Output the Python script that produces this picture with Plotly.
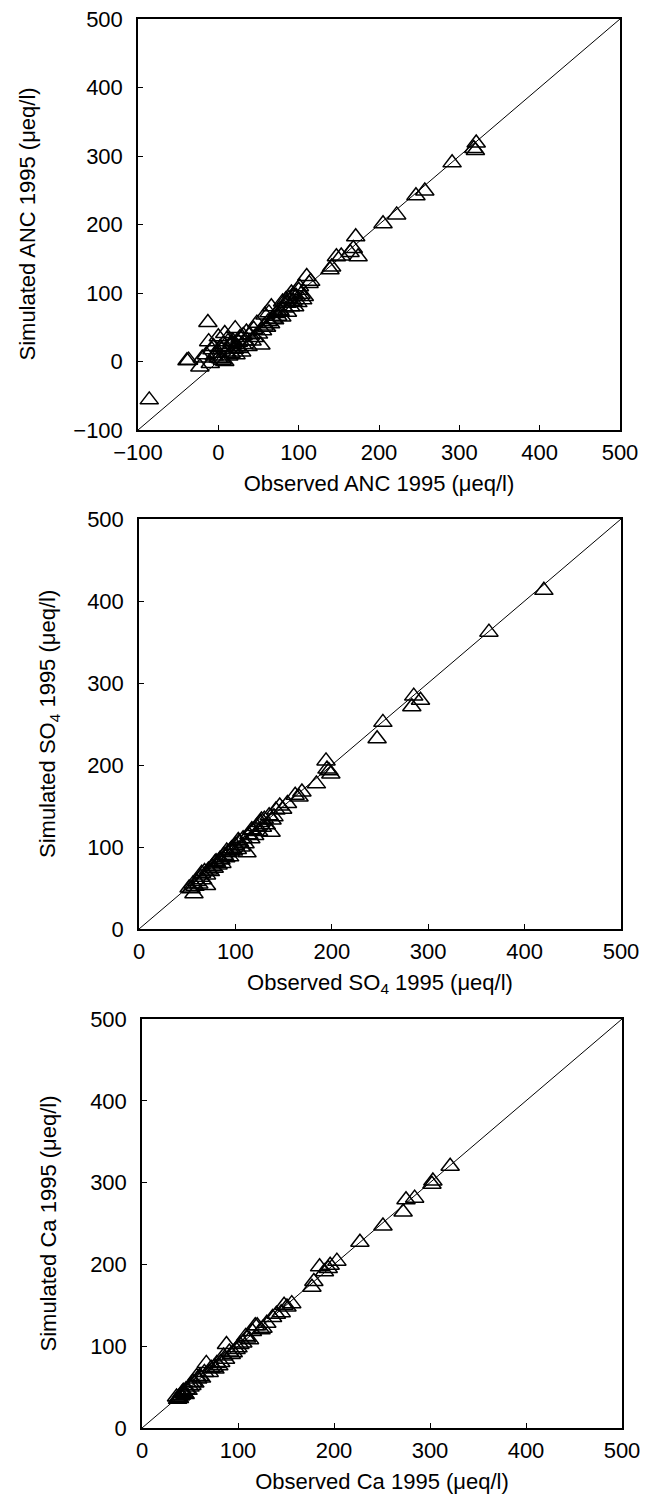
import plotly.graph_objects as go

# ANC panel (observed vs simulated, ueq/l)
anc_obs = [-86, -39, -13, -23, -37, -20, -15, -12, -10, -8, -5, -2, 0, 0, 2, 4, 5, 6, 8, 8,
           10, 12, 13, 15, 16, 18, 20, 21, 22, 23, 25, 27, 29, 30, 33, 35, 37, 39, 42, 45,
           48, 50, 53, 55, 58, 60, 62, 65, 66, 68, 70, 72, 74, 76, 79, 80, 82, 85, 86, 88,
           90, 91, 93, 95, 97, 99, 101, 103, 105, 107, 110, 113, 115, 139, 141, 147, 153, 164,
           168, 171, 174, 205, 222, 246, 257, 291, 318, 321, 320, -6, 3, 11, 17, 26, 31,
           44, 57, 63, 77, 84, 94, 100]
anc_sim = [-56, 1, 57, -8, 2, 5, 10, 29, -3, 17, 8, 12, 36, 5, 20, 17, 2, 25, 41, 0,
           14, 29, 8, 22, 12, 30, 18, 48, 10, 21, 28, 35, 14, 25, 30, 43, 22, 39, 30, 35,
           56, 40, 24, 45, 68, 50, 58, 55, 80, 62, 61, 70, 66, 75, 65, 87, 78, 85, 72, 92,
           80, 100, 88, 80, 95, 86, 109, 98, 90, 95, 124, 114, 117, 134, 138, 153, 154, 159,
           165, 182, 153, 201, 214, 242, 249, 290, 311, 319, 308, 22, 4, 33, 27, 19, 38,
           47, 52, 71, 73, 90, 97, 104]

# SO4 panel
so4_obs = [420, 363, 285, 292, 283, 253, 247, 194, 195, 199, 197, 184, 169, 166, 162, 154,
           149, 146, 140, 137, 52, 54, 56, 58, 60, 62, 64, 66, 68, 70, 72, 74, 76, 78, 80,
           82, 84, 86, 88, 90, 92, 94, 96, 98, 100, 102, 104, 106, 108, 110, 112, 114, 116,
           118, 120, 122, 124, 126, 128, 130, 132, 135, 138, 142, 57, 70, 85, 95, 65, 79,
           91, 103, 117, 127]
so4_sim = [413, 362, 284, 279, 271, 252, 232, 205, 195, 189, 193, 177, 167, 161, 163, 153,
           146, 150, 137, 118, 50, 49, 55, 52, 58, 55, 63, 60, 70, 66, 72, 70, 76, 74, 82,
           78, 85, 80, 90, 87, 93, 88, 98, 95, 102, 97, 106, 100, 110, 104, 93, 115, 110,
           120, 114, 125, 119, 130, 124, 134, 127, 138, 133, 145, 43, 53, 84, 96, 68, 81,
           95, 108, 121, 133]

# Ca panel
ca_obs = [321, 303, 302, 284, 275, 272, 251, 227, 203, 196, 185, 190, 194, 177, 179, 156,
          151, 148, 140, 136, 126, 120, 115, 109, 105, 88, 91, 95, 98, 85, 82, 78, 75, 72,
          67, 65, 62, 60, 57, 55, 52, 50, 48, 46, 44, 42, 40, 38, 37, 36, 45, 70, 80, 100,
          112, 130, 118, 102, 93, 87, 39, 41, 43, 53, 58, 76, 108, 124, 145]
ca_sim = [320, 302, 298, 281, 279, 264, 247, 227, 204, 199, 197, 191, 195, 172, 179, 152,
          148, 150, 139, 135, 122, 125, 118, 110, 104, 102, 93, 92, 96, 88, 80, 79, 74, 73,
          79, 68, 61, 63, 63, 55, 52, 50, 46, 47, 42, 43, 39, 37, 35, 38, 41, 68, 76, 98,
          108, 128, 125, 102, 90, 84, 36, 40, 45, 56, 60, 72, 112, 120, 141]

anc_range = [-100, 500]
pos_range = [0, 500]
ticks_anc = [-100, 0, 100, 200, 300, 400, 500]
ticks_pos = [0, 100, 200, 300, 400, 500]

# the page body has an 8px margin, so the figure is a bit smaller than the window
OFF = 8
W, H = 652, 1486
FONT = "Liberation Sans, Arial, Helvetica, sans-serif"

panels = [
    dict(x=anc_obs, y=anc_sim, rng=anc_range, ticks=ticks_anc,
         xt="Observed ANC 1995 (\u03bceq/l)", yt="Simulated ANC 1995 (\u03bceq/l)",
         px=(138, 620), py=(19, 430), ytx=27),
    dict(x=so4_obs, y=so4_sim, rng=pos_range, ticks=ticks_pos,
         xt="Observed SO<sub>4</sub> 1995 (\u03bceq/l)", yt="Simulated SO<sub>4</sub> 1995 (\u03bceq/l)",
         px=(139, 621), py=(519, 929), ytx=49),
    dict(x=ca_obs, y=ca_sim, rng=pos_range, ticks=ticks_pos,
         xt="Observed Ca 1995 (\u03bceq/l)", yt="Simulated Ca 1995 (\u03bceq/l)",
         px=(142, 622), py=(1019, 1428), ytx=48),
]

fig = go.Figure()
layout = {}
annots = []
for i, p in enumerate(panels, start=1):
    xa = "x" if i == 1 else f"x{i}"
    ya = "y" if i == 1 else f"y{i}"
    # 1:1 line
    fig.add_trace(go.Scatter(x=p["rng"], y=p["rng"], mode="lines", xaxis=xa, yaxis=ya,
                             line=dict(color="black", width=1), showlegend=False,
                             hoverinfo="skip"))
    fig.add_trace(go.Scatter(x=p["x"], y=p["y"], mode="markers", xaxis=xa, yaxis=ya,
                             marker=dict(symbol="triangle-up-open", size=16, color="black",
                                         line=dict(width=1.5, color="black")),
                             showlegend=False))
    common = dict(range=p["rng"], tickvals=p["ticks"], ticks="inside", ticklen=5,
                  tickwidth=1, tickcolor="black", showline=True, linecolor="black",
                  linewidth=1.5, mirror=True, showgrid=False, zeroline=False,
                  automargin=False, ticklabeloverflow="allow",
                  tickfont=dict(family=FONT, size=22, color="black"))
    ydom = [1 - (p["py"][1] - OFF) / H, 1 - (p["py"][0] - OFF) / H]
    layout["xaxis" if i == 1 else f"xaxis{i}"] = dict(
        common, domain=[(p["px"][0] - OFF) / W, (p["px"][1] - OFF) / W], anchor=ya,
        ticklabelstandoff=2,
        title=dict(text=p["xt"], font=dict(family=FONT, size=22, color="black"), standoff=11))
    layout["yaxis" if i == 1 else f"yaxis{i}"] = dict(
        common, domain=ydom, anchor=xa, ticklabelstandoff=9)
    annots.append(dict(text=p["yt"], textangle=-90, showarrow=False,
                       xref="paper", yref="paper",
                       x=(p["ytx"] - OFF) / W, y=(ydom[0] + ydom[1]) / 2,
                       xanchor="center", yanchor="middle",
                       font=dict(family=FONT, size=22, color="black")))

fig.update_layout(**layout)
fig.update_layout(width=W, height=H, margin=dict(l=0, r=0, t=0, b=0),
                  plot_bgcolor="white", paper_bgcolor="white",
                  font=dict(family=FONT, size=22, color="black"),
                  annotations=annots)

fig.write_html("out.html")
